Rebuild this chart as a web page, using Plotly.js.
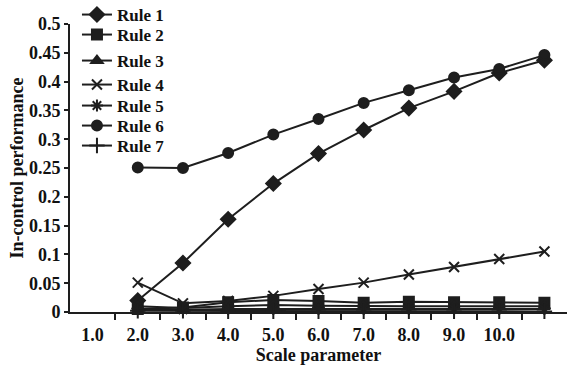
<!DOCTYPE html>
<html>
<head>
<meta charset="utf-8">
<script src="https://cdn.plot.ly/plotly-3.0.1.min.js"></script>
<style>html,body{margin:0;padding:0;background:#fff;}#chart{width:567px;height:368px;}</style>
</head>
<body>
<div id="chart"></div>
<script>
// Data positions (category slot along the x axis); each point sits in the slot right of its label
const xPos = [2, 3, 4, 5, 6, 7, 8, 9, 10, 11];
// Category boundaries carry the tick marks
const boundaryTicks = [1.5, 2.5, 3.5, 4.5, 5.5, 6.5, 7.5, 8.5, 9.5, 10.5];
// Category labels
const tickPos = [1, 2, 3, 4, 5, 6, 7, 8, 9, 10];
const tickLabels = ["1.0", "2.0", "3.0", "4.0", "5.0", "6.0", "7.0", "8.0", "9.0", "10.0"];
const yTickVals = [0, 0.05, 0.1, 0.15, 0.2, 0.25, 0.3, 0.35, 0.4, 0.45, 0.5];
const yTickText = ["0", "0.05", "0.1", "0.15", "0.2", "0.25", "0.3", "0.35", "0.4", "0.45", "0.5"];

const rule1 = [0.02, 0.085, 0.161, 0.223, 0.275, 0.316, 0.354, 0.383, 0.415, 0.437];
const rule2 = [0.005, 0.008, 0.017, 0.021, 0.019, 0.016, 0.018, 0.017, 0.017, 0.016];
const rule3 = [0.01, 0.007, 0.01, 0.012, 0.011, 0.01, 0.01, 0.01, 0.01, 0.01];
const rule4 = [0.051, 0.015, 0.019, 0.028, 0.04, 0.051, 0.065, 0.078, 0.092, 0.105];
const rule5 = [0.005, 0.004, 0.005, 0.005, 0.005, 0.005, 0.005, 0.005, 0.005, 0.005];
const rule6 = [0.251, 0.25, 0.276, 0.308, 0.335, 0.363, 0.385, 0.407, 0.422, 0.446];
const rule7 = [0.002, 0.002, 0.001, 0.001, 0.001, 0.001, 0.001, 0.001, 0.001, 0.001];

const names = ["Rule 1", "Rule 2", "Rule 3", "Rule 4", "Rule 5", "Rule 6", "Rule 7"];
const series = [rule1, rule2, rule3, rule4, rule5, rule6, rule7];
const symbols = ["diamond", "square", "triangle-up", "x-thin-open", "asterisk-open", "circle", "cross-thin-open"];
const sizes = [11, 10, 10, 10, 10, 10, 11];
// vertical centre (px from top) of each legend entry
const legendRowPx = [15, 35, 61, 85, 106, 126, 146];

const ink = "#1e1e1e";
const fnt = {family: "Liberation Serif, Times New Roman, serif", size: 18, color: "#111", weight: "bold"};
const legFnt = Object.assign({}, fnt, {size: 17});

const M = {l: 70, r: 0, t: 24, b: 56, autoexpand: false};
const H = 368, plotH = H - M.t - M.b;

const traces = series.map((ys, i) => ({
  x: xPos, y: ys, name: names[i], type: "scatter", mode: "lines+markers",
  legend: i === 0 ? "legend" : "legend" + (i + 1),
  line: {color: ink, width: 2},
  marker: {symbol: symbols[i], size: sizes[i], color: ink, line: {color: ink, width: 2}},
  cliponaxis: false
}));
// carrier for the label axis
traces.push({x: [1], y: [0], xaxis: "x2", yaxis: "y", mode: "markers", marker: {opacity: 0}, showlegend: false, hoverinfo: "skip"});

const layout = {
  width: 567, height: H,
  margin: M,
  paper_bgcolor: "#fff", plot_bgcolor: "#fff",
  font: fnt,
  showlegend: true,
  xaxis: {
    range: [0.5, 11.5], showgrid: false, zeroline: false,
    showline: true, linecolor: ink, linewidth: 2,
    tickmode: "array", tickvals: boundaryTicks, showticklabels: false,
    ticks: "outside", ticklen: 6, tickwidth: 2, tickcolor: ink
  },
  xaxis2: {
    overlaying: "x", anchor: "y", side: "bottom",
    range: [0.5, 11.5], showgrid: false, zeroline: false, showline: false,
    tickmode: "array", tickvals: tickPos, ticktext: tickLabels,
    ticks: "outside", ticklen: 6, tickcolor: "rgba(0,0,0,0)",
    tickfont: fnt,
    title: {text: "Scale parameter", font: fnt, standoff: 0}
  },
  yaxis: {
    range: [0, 0.5], showgrid: false, zeroline: false,
    showline: true, linecolor: ink, linewidth: 2,
    tickmode: "array", tickvals: yTickVals, ticktext: yTickText,
    ticks: "outside", ticklen: 4, tickwidth: 2, tickcolor: ink,
    tickfont: fnt,
    title: {text: "In-control performance", font: fnt, standoff: 1}
  }
};
legendRowPx.forEach((py, i) => {
  layout[i === 0 ? "legend" : "legend" + (i + 1)] = {
    x: 0.014, y: (H - M.b - py) / plotH, xanchor: "left", yanchor: "middle",
    bgcolor: "rgba(0,0,0,0)", font: legFnt, itemwidth: 30
  };
});

Plotly.newPlot("chart", traces, layout, {displayModeBar: false, staticPlot: true});
</script>
</body>
</html>
